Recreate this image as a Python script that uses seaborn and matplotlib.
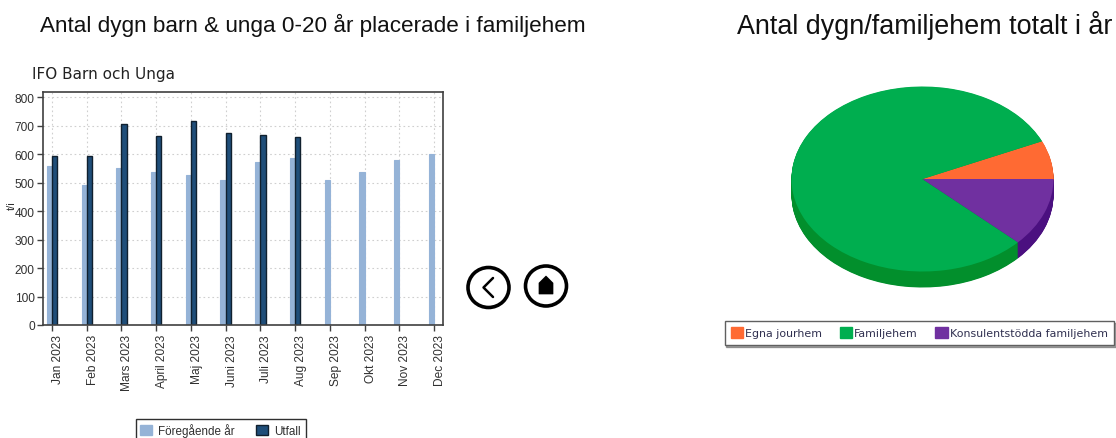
import matplotlib
matplotlib.use("Agg")
import matplotlib.pyplot as plt
from matplotlib.patches import Ellipse, Polygon, Rectangle
from matplotlib.lines import Line2D
from matplotlib.transforms import ScaledTranslation
import numpy as np
import pandas as pd
import seaborn as sns

months = ["Jan 2023", "Feb 2023", "Mars 2023", "April 2023", "Maj 2023", "Juni 2023",
          "Juli 2023", "Aug 2023", "Sep 2023", "Okt 2023", "Nov 2023", "Dec 2023"]
foregaende = [560, 490, 552, 538, 528, 510, 572, 585, 510, 538, 580, 600]
utfall = [593, 593, 705, 663, 716, 676, 668, 660, np.nan, np.nan, np.nan, np.nan]
pie_labels = ["Egna jourhem", "Familjehem", "Konsulentstödda familjehem"]
pie_values = [6.7, 81.3, 12.0]
pie_colors = ["#FF6A33", "#00AE4F", "#7030A0"]
pie_side = ["#C84F22", "#028F2C", "#4B1080"]

W, H = 1116, 439
sns.set_theme(style="white")
plt.rcParams["font.family"] = ["Liberation Sans", "DejaVu Sans"]
fig = plt.figure(figsize=(W / 100, H / 100), dpi=100, facecolor="white")

def box(l, t, r, b):
    return [l / W, 1 - b / H, (r - l) / W, (b - t) / H]

# Bar chart
ax = fig.add_axes(box(43, 92.5, 443, 326))
df = pd.DataFrame({"Månad": months * 2,
                   "Serie": ["Föregående år"] * 12 + ["Utfall"] * 12,
                   "Värde": foregaende + utfall})
sns.barplot(data=df, x="Månad", y="Värde", hue="Serie", ax=ax, width=0.3, dodge=True,
            palette={"Föregående år": "#95B3D7", "Utfall": "#1F4E79"},
            saturation=1, legend=False, errorbar=None)
n = len(months)
for i, p in enumerate(ax.patches):
    if i < n:
        p.set_edgecolor("#95B3D7"); p.set_linewidth(0.8)
    else:
        p.set_edgecolor("#10202E"); p.set_linewidth(1.0)
ax.set_xlim(-0.26, 11.26)
ax.set_ylim(0, 820)
ax.set_yticks(range(0, 801, 100))
ax.set_xlabel("")
ax.set_ylabel("")
ax.grid(True, color="#CFCFCF", linestyle=(0, (1.5, 2.5)), linewidth=0.8)
ax.set_axisbelow(True)
ax.tick_params(axis="both", length=4, width=1, color="#404040", labelsize=8.6,
               labelcolor="#303030", pad=2, left=True, bottom=True)
ax.tick_params(axis="x", labelrotation=90, pad=2.5)
shift = ScaledTranslation(6 / 100, 0, fig.dpi_scale_trans)
for lab in ax.get_xticklabels():
    lab.set_transform(lab.get_transform() + shift)
for s in ax.spines.values():
    s.set_color("#404040"); s.set_linewidth(1.2); s.set_visible(True)
handles = [Rectangle((0, 0), 1, 1, fc="#95B3D7", ec="#95B3D7"),
           Rectangle((0, 0), 1, 1, fc="#1F4E79", ec="#10202E")]
fig.legend(handles, ["Föregående år", "Utfall"], ncol=2, loc="upper left",
           bbox_to_anchor=(135.5 / W, 1 - 419.5 / H), frameon=True, fancybox=False,
           edgecolor="#303030", framealpha=1, fontsize=8.4, handlelength=1, handleheight=1,
           columnspacing=1.85, handletextpad=0.55, borderpad=0.4, borderaxespad=0,
           labelcolor="#303030")

# Pie chart
rx, ry, depth = 131, 92.5, 16
wedge = {"linewidth": 0, "edgecolor": "none", "antialiased": True}
pax = fig.add_axes(box(922.5 - 135, 180 - 96, 922.5 + 135, 180 + 96 + 20))
for off in np.arange(depth, 0, -0.5):
    pax.pie(pie_values, colors=pie_side, startangle=0, radius=1,
            center=(0, -off / ry), wedgeprops=wedge)
pax.pie(pie_values, colors=pie_colors, startangle=0, radius=1, center=(0, 0), wedgeprops=wedge)
pax.set_aspect("auto")
pax.set_xlim(-135 / rx, 135 / rx)
pax.set_ylim(-116 / ry, 96 / ry)
pax.axis("off")
pie_handles = [Rectangle((0, 0), 1, 1, fc=c, ec=c) for c in pie_colors]
fig.legend(pie_handles, pie_labels, ncol=3, loc="upper left",
           bbox_to_anchor=(724.5 / W, 1 - 321.5 / H), frameon=True, fancybox=False,
           shadow={"ox": 1, "oy": -2, "alpha": 0.5},
           edgecolor="#606060", framealpha=1,
           columnspacing=1.6, handlelength=1.1, handleheight=1.1, handletextpad=0.2,
           borderpad=0.6, borderaxespad=0, labelcolor="#303050",
           prop={"family": "DejaVu Sans", "size": 7.9})

# Text
fig.text(40 / W, 1 - 25 / H, "Antal dygn barn & unga 0-20 år placerade i familjehem",
         fontsize=16.2, va="center", ha="left", color="#111111")
fig.text(737 / W, 1 - 25 / H, "Antal dygn/familjehem totalt i år",
         fontsize=19.4, va="center", ha="left", color="#111111")
fig.text(32 / W, 1 - 75 / H, "IFO Barn och Unga", fontsize=11, va="center", ha="left",
         color="#222222", family="DejaVu Sans")
fig.text(11.5 / W, 1 - 206 / H, "t/i", fontsize=8, rotation=90, va="center", ha="center",
         color="#303030")

# Navigation buttons and legend edge, drawn in pixel coordinates on an overlay
ov = fig.add_axes([0, 0, 1, 1], facecolor="none")
ov.set_xlim(0, W); ov.set_ylim(H, 0); ov.axis("off")
ov.add_patch(Ellipse((488.5, 288.5), 41, 40, fc="white", ec="black", lw=2.6))
ov.add_patch(Ellipse((546, 287), 41, 40, fc="white", ec="black", lw=2.6))
ov.add_line(Line2D([493, 483.5, 493], [279, 288.5, 298], color="black", lw=1.8))
ov.add_patch(Polygon([[546, 277], [553, 284], [553, 295], [539, 295], [539, 284]],
                     fc="black", ec="black", lw=0.5))
ov.add_patch(Rectangle((304.5, 421), 2.5, 17, fc="#1F4E79", ec="none"))

fig.savefig("out.png", dpi=100)
